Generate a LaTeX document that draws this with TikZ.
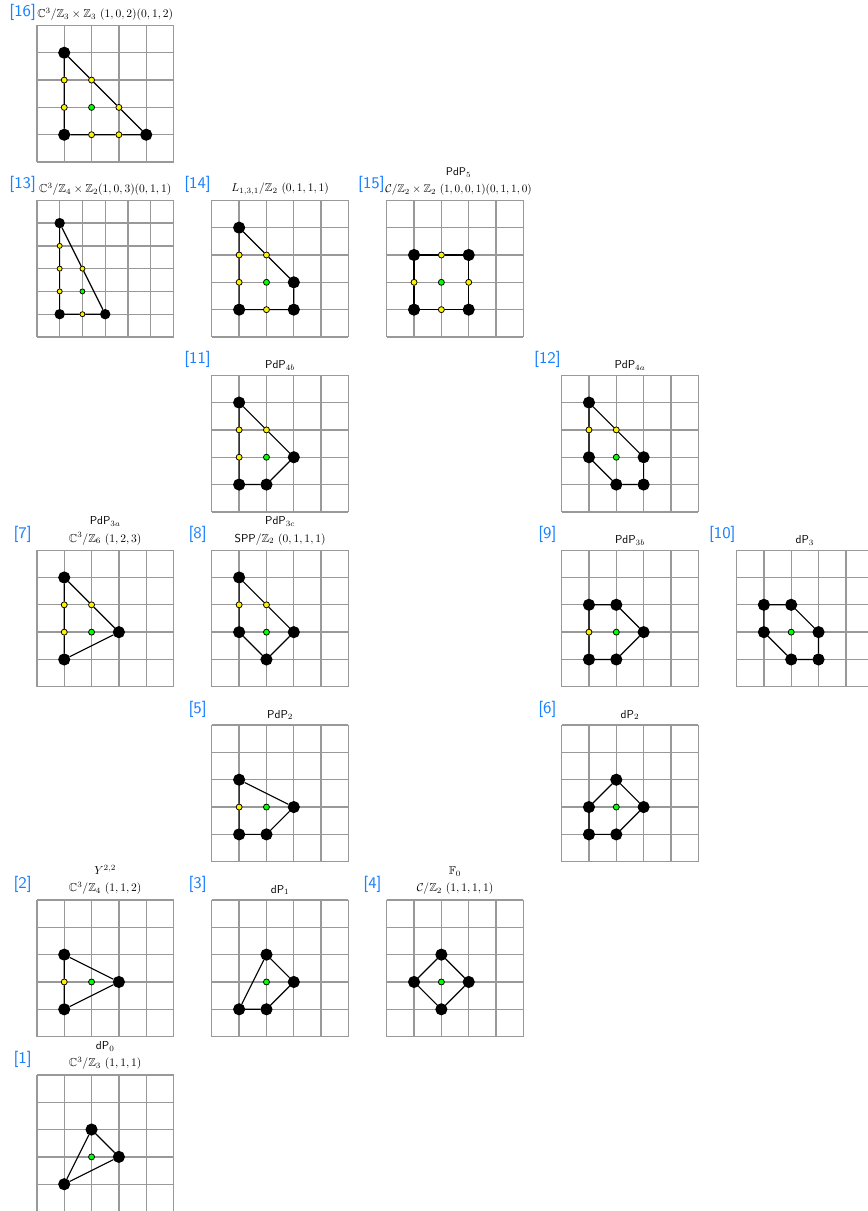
\documentclass[tikz,border=0pt]{standalone}
\usepackage{amssymb}
\definecolor{refblue}{rgb}{0.1,0.5,1}

\begin{document}
\begin{tikzpicture}[x = 0.5cm, y = 0.5cm, line width = 0.6pt]
    \tikzstyle{lattice} = [draw = gray!80, line width = 0.7pt, step = 1]
    \tikzstyle{corner} = [draw, fill = black, shape = circle, inner sep = 0pt, minimum size = 0.2cm]
    \tikzstyle{boundary} = [draw, fill = yellow, shape = circle, inner sep = 0pt, minimum size = 0.11cm, line width = 0.4pt]
    \tikzstyle{interior} = [draw, fill = green, shape = circle, inner sep = 0pt, minimum size = 0.11cm, line width = 0.4pt]
    \tikzstyle{caption} = [anchor = south, inner sep = 0pt, yshift = 2.5pt, scale = 0.6, align = center, font = \fontsize{10}{15}\selectfont]
    \tikzstyle{tag} = [text = refblue, font = \fontsize{8.5}{10}\sffamily\selectfont]

    \useasboundingbox (-1.35,0.02) rectangle (30.4,44.33);

    % [16]
    \begin{scope}[shift = {(0,38.4)}]
    \draw[lattice] (0,0) grid (5,5);
    \node[tag] (r16) at (-0.52,5.48) {[16]};
    \node[caption] (t16) at (2.5,5) {$\mathbb{C}^3/\mathbb{Z}_3\times\mathbb{Z}_3$ $(1,0,2)(0,1,2)$};
    \foreach \x/\y in {1/4, 1/1, 4/1} \node[corner] (p16-\x\y) at (\x,\y) {};
    \foreach \x/\y in {1/3, 1/2, 2/1, 3/1, 3/2, 2/3} \node[boundary] (p16-\x\y) at (\x,\y) {};
    \node[interior] (p16-22) at (2,2) {};
    \draw (p16-14) -- (p16-13) -- (p16-12) -- (p16-11) -- (p16-21) -- (p16-31) -- (p16-41) -- (p16-32) -- (p16-23) -- (p16-14);
    \end{scope}

    % [13]
    \begin{scope}[shift = {(0,32)}]
    \node[tag] (r13) at (-0.52,5.58) {[13]};
    \node[caption] (t13) at (2.5,5) {$\mathbb{C}^3/\mathbb{Z}_4\times\mathbb{Z}_2(1,0,3)(0,1,1)$};
    \begin{scope}[scale = 5/6, transform shape]
    \draw[lattice] (0,0) grid (6,6);
    \foreach \x/\y in {1/5, 1/1, 3/1} \node[corner] (p13-\x\y) at (\x,\y) {};
    \foreach \x/\y in {1/4, 1/3, 1/2, 2/1, 2/3} \node[boundary] (p13-\x\y) at (\x,\y) {};
    \node[interior] (p13-22) at (2,2) {};
    \draw (p13-15) -- (p13-14) -- (p13-13) -- (p13-12) -- (p13-11) -- (p13-21) -- (p13-31) -- (p13-23) -- (p13-15);
    \end{scope}
    \end{scope}

    % [14]
    \begin{scope}[shift = {(6.4,32)}]
    \draw[lattice] (0,0) grid (5,5);
    \node[tag] (r14) at (-0.52,5.58) {[14]};
    \node[caption] (t14) at (2.5,5) {$L_{1,3,1}/\mathbb{Z}_2$ $(0,1,1,1)$};
    \foreach \x/\y in {1/4, 1/1, 3/1, 3/2} \node[corner] (p14-\x\y) at (\x,\y) {};
    \foreach \x/\y in {1/3, 1/2, 2/1, 2/3} \node[boundary] (p14-\x\y) at (\x,\y) {};
    \node[interior] (p14-22) at (2,2) {};
    \draw (p14-14) -- (p14-13) -- (p14-12) -- (p14-11) -- (p14-21) -- (p14-31) -- (p14-32) -- (p14-23) -- (p14-14);
    \end{scope}

    % [15]
    \begin{scope}[shift = {(12.8,32)}]
    \draw[lattice] (0,0) grid (5,5);
    \node[tag] (r15) at (-0.56,5.58) {[15]};
    \node[caption, xshift = 3pt, scale = 0.97] (t15) at (2.5,5) {$\mathsf{PdP}_5$\\ $\mathcal{C}/\mathbb{Z}_2\times\mathbb{Z}_2$ $(1,0,0,1)(0,1,1,0)$};
    \foreach \x/\y in {1/3, 3/3, 1/1, 3/1} \node[corner] (p15-\x\y) at (\x,\y) {};
    \foreach \x/\y in {2/3, 1/2, 3/2, 2/1} \node[boundary] (p15-\x\y) at (\x,\y) {};
    \node[interior] (p15-22) at (2,2) {};
    \draw (p15-13) -- (p15-23) -- (p15-33) -- (p15-32) -- (p15-31) -- (p15-21) -- (p15-11) -- (p15-12) -- (p15-13);
    \end{scope}

    % [11]
    \begin{scope}[shift = {(6.4,25.6)}]
    \draw[lattice] (0,0) grid (5,5);
    \node[tag] (r11) at (-0.52,5.58) {[11]};
    \node[caption] (t11) at (2.5,5) {$\mathsf{PdP}_{4b}$};
    \foreach \x/\y in {1/4, 3/2, 2/1, 1/1} \node[corner] (p11-\x\y) at (\x,\y) {};
    \foreach \x/\y in {1/3, 2/3, 1/2} \node[boundary] (p11-\x\y) at (\x,\y) {};
    \node[interior] (p11-22) at (2,2) {};
    \draw (p11-14) -- (p11-23) -- (p11-32) -- (p11-21) -- (p11-11) -- (p11-12) -- (p11-13) -- (p11-14);
    \end{scope}

    % [12]
    \begin{scope}[shift = {(19.2,25.6)}]
    \draw[lattice] (0,0) grid (5,5);
    \node[tag] (r12) at (-0.52,5.58) {[12]};
    \node[caption] (t12) at (2.5,5) {$\mathsf{PdP}_{4a}$};
    \foreach \x/\y in {1/4, 1/2, 3/2, 2/1, 3/1} \node[corner] (p12-\x\y) at (\x,\y) {};
    \foreach \x/\y in {1/3, 2/3} \node[boundary] (p12-\x\y) at (\x,\y) {};
    \node[interior] (p12-22) at (2,2) {};
    \draw (p12-14) -- (p12-23) -- (p12-32) -- (p12-31) -- (p12-21) -- (p12-12) -- (p12-13) -- (p12-14);
    \end{scope}

    % [7]
    \begin{scope}[shift = {(0,19.2)}]
    \draw[lattice] (0,0) grid (5,5);
    \node[tag] (r7) at (-0.52,5.58) {[7]};
    \node[caption] (t7) at (2.5,5) {$\mathsf{PdP}_{3a}$\\ $\mathbb{C}^3/\mathbb{Z}_6$ $(1,2,3)$};
    \foreach \x/\y in {1/4, 3/2, 1/1} \node[corner] (p7-\x\y) at (\x,\y) {};
    \foreach \x/\y in {1/3, 2/3, 1/2} \node[boundary] (p7-\x\y) at (\x,\y) {};
    \node[interior] (p7-22) at (2,2) {};
    \draw (p7-14) -- (p7-23) -- (p7-32) -- (p7-11) -- (p7-12) -- (p7-13) -- (p7-14);
    \end{scope}

    % [8]
    \begin{scope}[shift = {(6.4,19.2)}]
    \draw[lattice] (0,0) grid (5,5);
    \node[tag] (r8) at (-0.52,5.58) {[8]};
    \node[caption] (t8) at (2.5,5) {$\mathsf{PdP}_{3c}$\\ $\mathsf{SPP}/\mathbb{Z}_2$ $(0,1,1,1)$};
    \foreach \x/\y in {1/4, 1/2, 3/2, 2/1} \node[corner] (p8-\x\y) at (\x,\y) {};
    \foreach \x/\y in {1/3, 2/3} \node[boundary] (p8-\x\y) at (\x,\y) {};
    \node[interior] (p8-22) at (2,2) {};
    \draw (p8-14) -- (p8-23) -- (p8-32) -- (p8-21) -- (p8-12) -- (p8-13) -- (p8-14);
    \end{scope}

    % [9]
    \begin{scope}[shift = {(19.2,19.2)}]
    \draw[lattice] (0,0) grid (5,5);
    \node[tag] (r9) at (-0.52,5.58) {[9]};
    \node[caption] (t9) at (2.5,5) {$\mathsf{PdP}_{3b}$};
    \foreach \x/\y in {1/3, 2/3, 3/2, 2/1, 1/1} \node[corner] (p9-\x\y) at (\x,\y) {};
    \node[boundary] (p9-12) at (1,2) {};
    \node[interior] (p9-22) at (2,2) {};
    \draw (p9-13) -- (p9-23) -- (p9-32) -- (p9-21) -- (p9-11) -- (p9-12) -- (p9-13);
    \end{scope}

    % [10]
    \begin{scope}[shift = {(25.6,19.2)}]
    \draw[lattice] (0,0) grid (5,5);
    \node[tag] (r10) at (-0.52,5.58) {[10]};
    \node[caption] (t10) at (2.5,5) {$\mathsf{dP}_3$};
    \foreach \x/\y in {1/3, 2/3, 3/2, 3/1, 2/1, 1/2} \node[corner] (p10-\x\y) at (\x,\y) {};
    \node[interior] (p10-22) at (2,2) {};
    \draw (p10-13) -- (p10-23) -- (p10-32) -- (p10-31) -- (p10-21) -- (p10-12) -- (p10-13);
    \end{scope}

    % [5]
    \begin{scope}[shift = {(6.4,12.8)}]
    \draw[lattice] (0,0) grid (5,5);
    \node[tag] (r5) at (-0.52,5.58) {[5]};
    \node[caption] (t5) at (2.5,5) {$\mathsf{PdP}_2$};
    \foreach \x/\y in {1/3, 3/2, 2/1, 1/1} \node[corner] (p5-\x\y) at (\x,\y) {};
    \node[boundary] (p5-12) at (1,2) {};
    \node[interior] (p5-22) at (2,2) {};
    \draw (p5-13) -- (p5-32) -- (p5-21) -- (p5-11) -- (p5-12) -- (p5-13);
    \end{scope}

    % [6]
    \begin{scope}[shift = {(19.2,12.8)}]
    \draw[lattice] (0,0) grid (5,5);
    \node[tag] (r6) at (-0.52,5.58) {[6]};
    \node[caption] (t6) at (2.5,5) {$\mathsf{dP}_2$};
    \foreach \x/\y in {2/3, 3/2, 2/1, 1/1, 1/2} \node[corner] (p6-\x\y) at (\x,\y) {};
    \node[interior] (p6-22) at (2,2) {};
    \draw (p6-23) -- (p6-32) -- (p6-21) -- (p6-11) -- (p6-12) -- (p6-23);
    \end{scope}

    % [2]
    \begin{scope}[shift = {(0,6.4)}]
    \draw[lattice] (0,0) grid (5,5);
    \node[tag] (r2) at (-0.52,5.58) {[2]};
    \node[caption] (t2) at (2.5,5) {$Y^{2,2}$\\ $\mathbb{C}^3/\mathbb{Z}_4$ $(1,1,2)$};
    \foreach \x/\y in {1/3, 3/2, 1/1} \node[corner] (p2-\x\y) at (\x,\y) {};
    \node[boundary] (p2-12) at (1,2) {};
    \node[interior] (p2-22) at (2,2) {};
    \draw (p2-13) -- (p2-32) -- (p2-11) -- (p2-12) -- (p2-13);
    \end{scope}

    % [3]
    \begin{scope}[shift = {(6.4,6.4)}]
    \draw[lattice] (0,0) grid (5,5);
    \node[tag] (r3) at (-0.52,5.58) {[3]};
    \node[caption] (t3) at (2.5,5) {$\mathsf{dP}_1$};
    \foreach \x/\y in {2/3, 3/2, 2/1, 1/1} \node[corner] (p3-\x\y) at (\x,\y) {};
    \node[interior] (p3-22) at (2,2) {};
    \draw (p3-23) -- (p3-32) -- (p3-21) -- (p3-11) -- (p3-23);
    \end{scope}

    % [4]
    \begin{scope}[shift = {(12.8,6.4)}]
    \draw[lattice] (0,0) grid (5,5);
    \node[tag] (r4) at (-0.52,5.58) {[4]};
    \node[caption] (t4) at (2.5,5) {$\mathbb{F}_0$\\ $\mathcal{C}/\mathbb{Z}_2$ $(1,1,1,1)$};
    \foreach \x/\y in {2/3, 3/2, 2/1, 1/2} \node[corner] (p4-\x\y) at (\x,\y) {};
    \node[interior] (p4-22) at (2,2) {};
    \draw (p4-23) -- (p4-32) -- (p4-21) -- (p4-12) -- (p4-23);
    \end{scope}

    % [1]
    \begin{scope}[shift = {(0,0)}]
    \draw[lattice] (0,0) grid (5,5);
    \node[tag] (r1) at (-0.52,5.58) {[1]};
    \node[caption] (t1) at (2.5,5) {$\mathsf{dP}_0$\\ $\mathbb{C}^3/\mathbb{Z}_3$ $(1,1,1)$};
    \foreach \x/\y in {2/3, 3/2, 1/1} \node[corner] (p1-\x\y) at (\x,\y) {};
    \node[interior] (p1-22) at (2,2) {};
    \draw (p1-23) -- (p1-32) -- (p1-11) -- (p1-23);
    \end{scope}
\end{tikzpicture}
\end{document}
